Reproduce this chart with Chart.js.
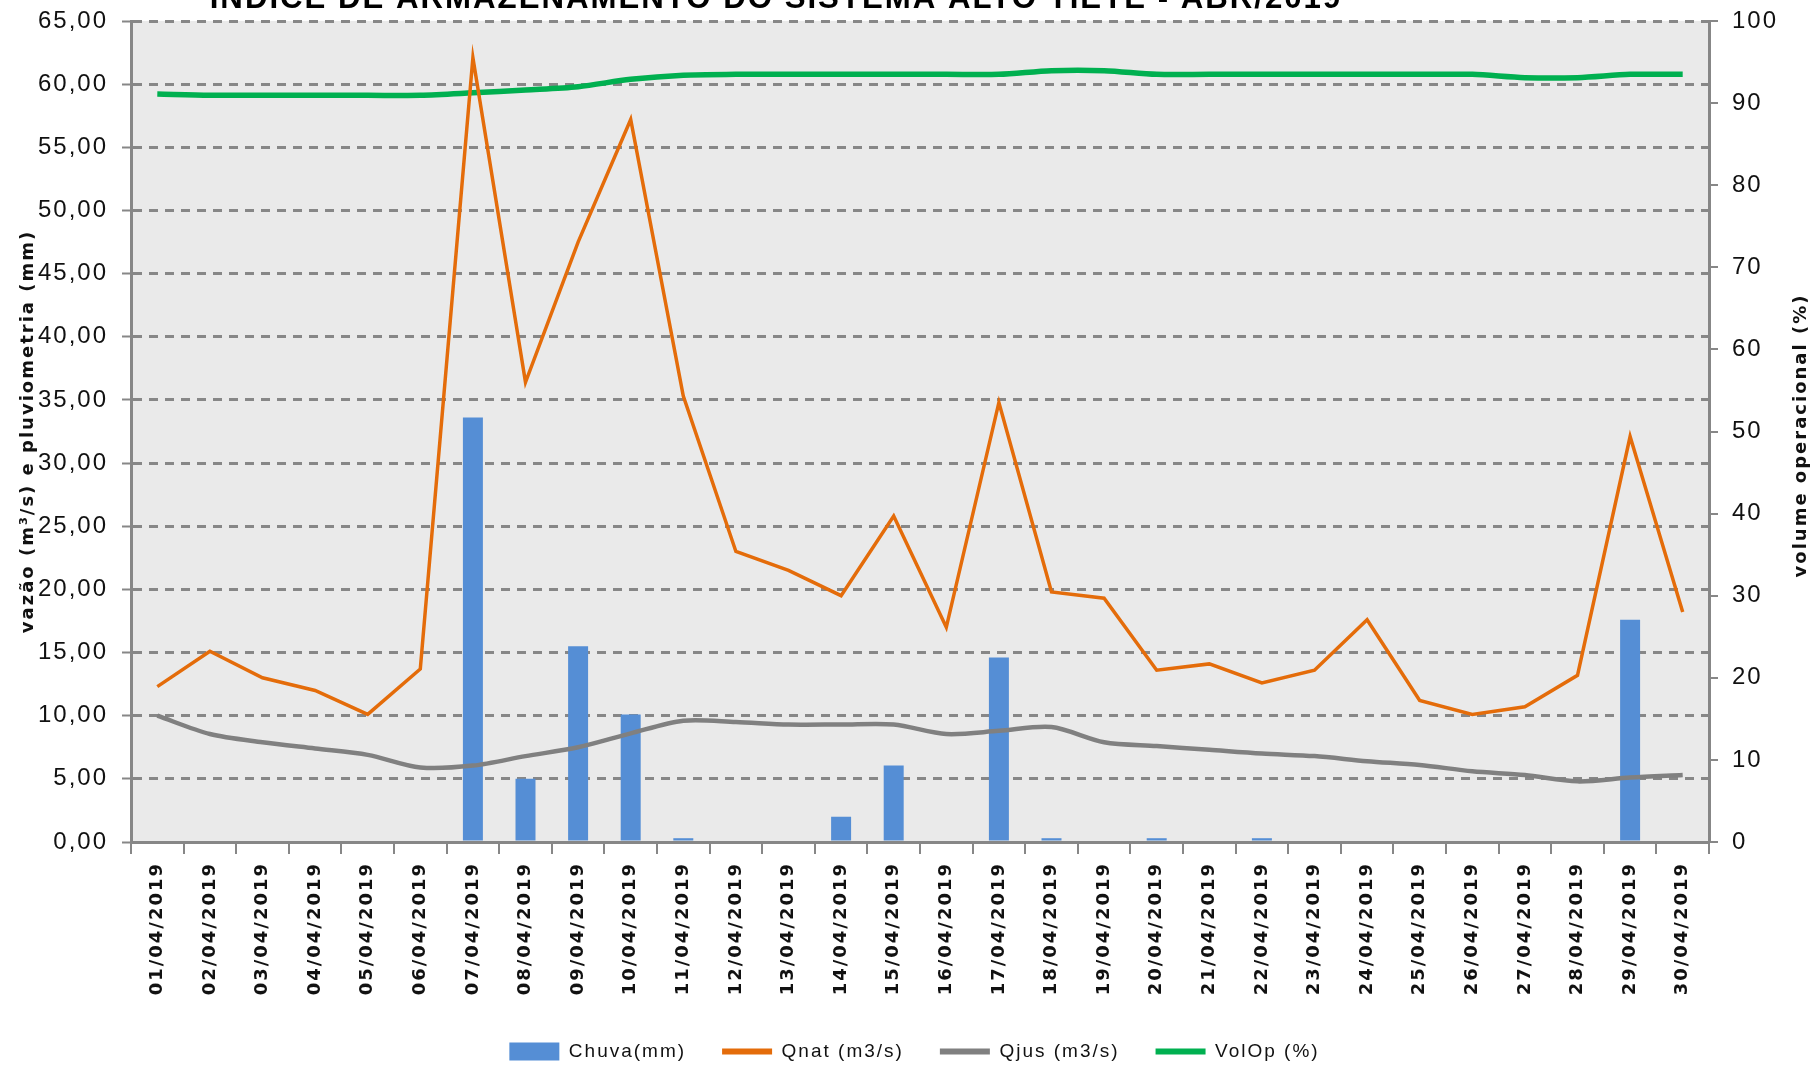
<!DOCTYPE html>
<html lang="pt-BR">
<head>
<meta charset="utf-8">
<title>Índice de armazenamento do Sistema Alto Tietê - ABR/2019</title>
<script src="https://cdn.jsdelivr.net/npm/chart.js@4.4.1/dist/chart.umd.min.js"></script>
<style>
    html, body { margin: 0; padding: 0; background: #fff; }
    canvas { display: block; }
</style>
</head>
<body>
<canvas id="armazenamento" width="1811" height="1065"></canvas>
<script>
// Dados (abril/2019)
const dias = [
    '01/04/2019', '02/04/2019', '03/04/2019', '04/04/2019', '05/04/2019',
    '06/04/2019', '07/04/2019', '08/04/2019', '09/04/2019', '10/04/2019',
    '11/04/2019', '12/04/2019', '13/04/2019', '14/04/2019', '15/04/2019',
    '16/04/2019', '17/04/2019', '18/04/2019', '19/04/2019', '20/04/2019',
    '21/04/2019', '22/04/2019', '23/04/2019', '24/04/2019', '25/04/2019',
    '26/04/2019', '27/04/2019', '28/04/2019', '29/04/2019', '30/04/2019'
];
const chuva = [0, 0, 0, 0, 0, 0, 33.6, 5.0, 15.5, 10.1, 0.3, 0, 0, 2.0, 6.05,
    0, 14.6, 0.3, 0, 0.3, 0, 0.3, 0, 0, 0, 0, 0, 0, 17.6, 0];
const qnat = [12.3, 15.1, 13.0, 12.0, 10.1, 13.7, 62.1, 36.4, 47.5, 57.2, 35.3, 23.0, 21.5, 19.5, 25.8,
    17.0, 34.8, 19.8, 19.3, 13.6, 14.1, 12.6, 13.6, 17.6, 11.2, 10.1, 10.7, 13.2, 32.1, 18.2];
const qjus = [10.0, 8.55, 7.9, 7.4, 6.9, 5.9, 6.05, 6.8, 7.5, 8.6, 9.6, 9.5, 9.3, 9.3, 9.3,
    8.55, 8.8, 9.1, 7.9, 7.6, 7.3, 7.0, 6.8, 6.4, 6.1, 5.6, 5.3, 4.8, 5.1, 5.3];
const volOp = [91.1, 90.95, 90.95, 90.95, 90.95, 90.95, 91.25, 91.6, 92.0, 92.9, 93.4, 93.5, 93.5, 93.5, 93.5,
    93.5, 93.5, 93.95, 93.95, 93.5, 93.5, 93.5, 93.5, 93.5, 93.5, 93.5, 93.1, 93.1, 93.5, 93.5];

const titulo = 'ÍNDICE DE ARMAZENAMENTO DO SISTEMA ALTO TIETÊ - ABR/2019';
const tituloDireita = 'volume operacional (%)';

const cinza = '#878787';
const fonteTexto = "'Liberation Sans', Arial, sans-serif";

document.addEventListener('DOMContentLoaded', function(){
    montarGrafico();
});

// fundo cinza da área do gráfico, título cortado no topo e título do eixo direito
const extras = {
    id: 'extras',
    beforeLayout(chart) {
        chart.ctx.letterSpacing = '2px';
    },
    beforeDraw(chart) {
        const ctx = chart.ctx;
        const a = chart.chartArea;
        ctx.letterSpacing = '2px';
        ctx.save();
        ctx.fillStyle = '#eaeaea';
        ctx.fillRect(a.left, a.top, a.right - a.left, a.bottom - a.top);
        ctx.restore();
    },
    afterDraw(chart) {
        const ctx = chart.ctx;
        const a = chart.chartArea;
        ctx.save();
        ctx.fillStyle = '#000';
        ctx.font = 'bold 30px ' + fonteTexto;
        const w = ctx.measureText(titulo).width;
        const tam = 30 * 1137 / w;
        ctx.font = 'bold ' + tam.toFixed(1) + 'px ' + fonteTexto;
        ctx.textAlign = 'center';
        ctx.textBaseline = 'alphabetic';
        ctx.fillText(titulo, 776, 8);

        ctx.translate(1801, (a.top + a.bottom) / 2 + 4);
        ctx.rotate(-Math.PI / 2);
        ctx.font = "bold 18px 'DejaVu Sans', sans-serif";
        ctx.fillStyle = '#111';
        ctx.textBaseline = 'middle';
        ctx.fillText(tituloDireita, 0, 0);
        ctx.restore();
    }
};

// largura fixa dos eixos verticais, sem a folga automática dos rótulos
function fixarEixo(largura) {
    return function(scale) {
        scale.width = largura;
        scale.paddingTop = 0;
        scale.paddingBottom = 0;
    };
}

function montarGrafico() {
    const ctx = document.getElementById('armazenamento');
    const gerarPadrao = Chart.defaults.plugins.legend.labels.generateLabels;
    new Chart(ctx, {
        data: {
            labels: dias,
            datasets: [
                {
                    type: 'bar',
                    label: 'Chuva(mm)',
                    data: chuva,
                    backgroundColor: '#558ed5',
                    barPercentage: 0.38,
                    categoryPercentage: 1.0,
                    yAxisID: 'y',
                    order: 4
                },
                {
                    type: 'line',
                    label: 'Qnat (m3/s)',
                    data: qnat,
                    borderColor: '#e46c0a',
                    backgroundColor: '#e46c0a',
                    borderWidth: 3.5,
                    pointRadius: 0,
                    tension: 0,
                    yAxisID: 'y',
                    order: 1
                },
                {
                    type: 'line',
                    label: 'Qjus (m3/s)',
                    data: qjus,
                    borderColor: '#808080',
                    backgroundColor: '#808080',
                    borderWidth: 4.5,
                    pointRadius: 0,
                    tension: 0.3,
                    yAxisID: 'y',
                    order: 2
                },
                {
                    type: 'line',
                    label: 'VolOp (%)',
                    data: volOp,
                    borderColor: '#00b050',
                    backgroundColor: '#00b050',
                    borderWidth: 5.5,
                    pointRadius: 0,
                    tension: 0.3,
                    yAxisID: 'y2',
                    order: 3
                }
            ]
        },
        options: {
            responsive: false,
            animation: false,
            events: [],
            layout: {
                padding: { top: 21, left: 18, right: 0, bottom: -6 }
            },
            scales: {
                x: {
                    type: 'category',
                    offset: true,
                    afterFit: function(scale) { scale.height = 164; },
                    grid: {
                        offset: true,
                        drawOnChartArea: false,
                        tickLength: 12,
                        color: cinza,
                        lineWidth: 2
                    },
                    border: { color: cinza, width: 3 },
                    ticks: {
                        autoSkip: false,
                        minRotation: 90,
                        maxRotation: 90,
                        padding: 8,
                        color: '#111',
                        font: { family: "'DejaVu Sans', sans-serif", size: 18, weight: 'bold' }
                    }
                },
                y: {
                    position: 'left',
                    min: 0,
                    max: 65,
                    afterFit: fixarEixo(113),
                    grid: {
                        color: cinza,
                        lineWidth: 3,
                        tickLength: 9,
                        tickWidth: 2,
                        tickBorderDash: []
                    },
                    border: { color: cinza, width: 3, dash: [9, 7] },
                    ticks: {
                        stepSize: 5,
                        padding: 14,
                        color: '#111',
                        font: { family: fonteTexto, size: 24 },
                        callback: function(v) { return v.toFixed(2).replace('.', ','); }
                    },
                    title: {
                        display: true,
                        text: 'vazão (m³/s) e pluviometria (mm)',
                        color: '#111',
                        padding: { top: 0, bottom: 0 },
                        font: { family: "'DejaVu Sans', sans-serif", size: 18, weight: 'bold' }
                    }
                },
                y2: {
                    position: 'right',
                    min: 0,
                    max: 100,
                    afterFit: fixarEixo(102),
                    grid: {
                        drawOnChartArea: false,
                        color: cinza,
                        tickLength: 9,
                        lineWidth: 2
                    },
                    border: { color: cinza, width: 3 },
                    ticks: {
                        stepSize: 10,
                        padding: 14,
                        color: '#111',
                        font: { family: fonteTexto, size: 24 }
                    }
                }
            },
            plugins: {
                tooltip: { enabled: false },
                legend: {
                    position: 'bottom',
                    labels: {
                        usePointStyle: true,
                        pointStyleWidth: 50,
                        boxHeight: 18,
                        padding: 36,
                        color: '#111',
                        font: { family: fonteTexto, size: 19 },
                        sort: function(a, b) { return a.datasetIndex - b.datasetIndex; },
                        generateLabels: function(chart) {
                            const itens = gerarPadrao(chart);
                            itens.forEach(function(item) {
                                const ds = chart.data.datasets[item.datasetIndex];
                                if (ds.type === 'bar') {
                                    item.pointStyle = 'rect';
                                    item.lineWidth = 0;
                                } else {
                                    item.pointStyle = 'line';
                                    item.strokeStyle = ds.borderColor;
                                    item.lineWidth = 6;
                                }
                            });
                            return itens;
                        }
                    }
                }
            }
        },
        plugins: [extras]
    });
}
</script>
</body>
</html>
